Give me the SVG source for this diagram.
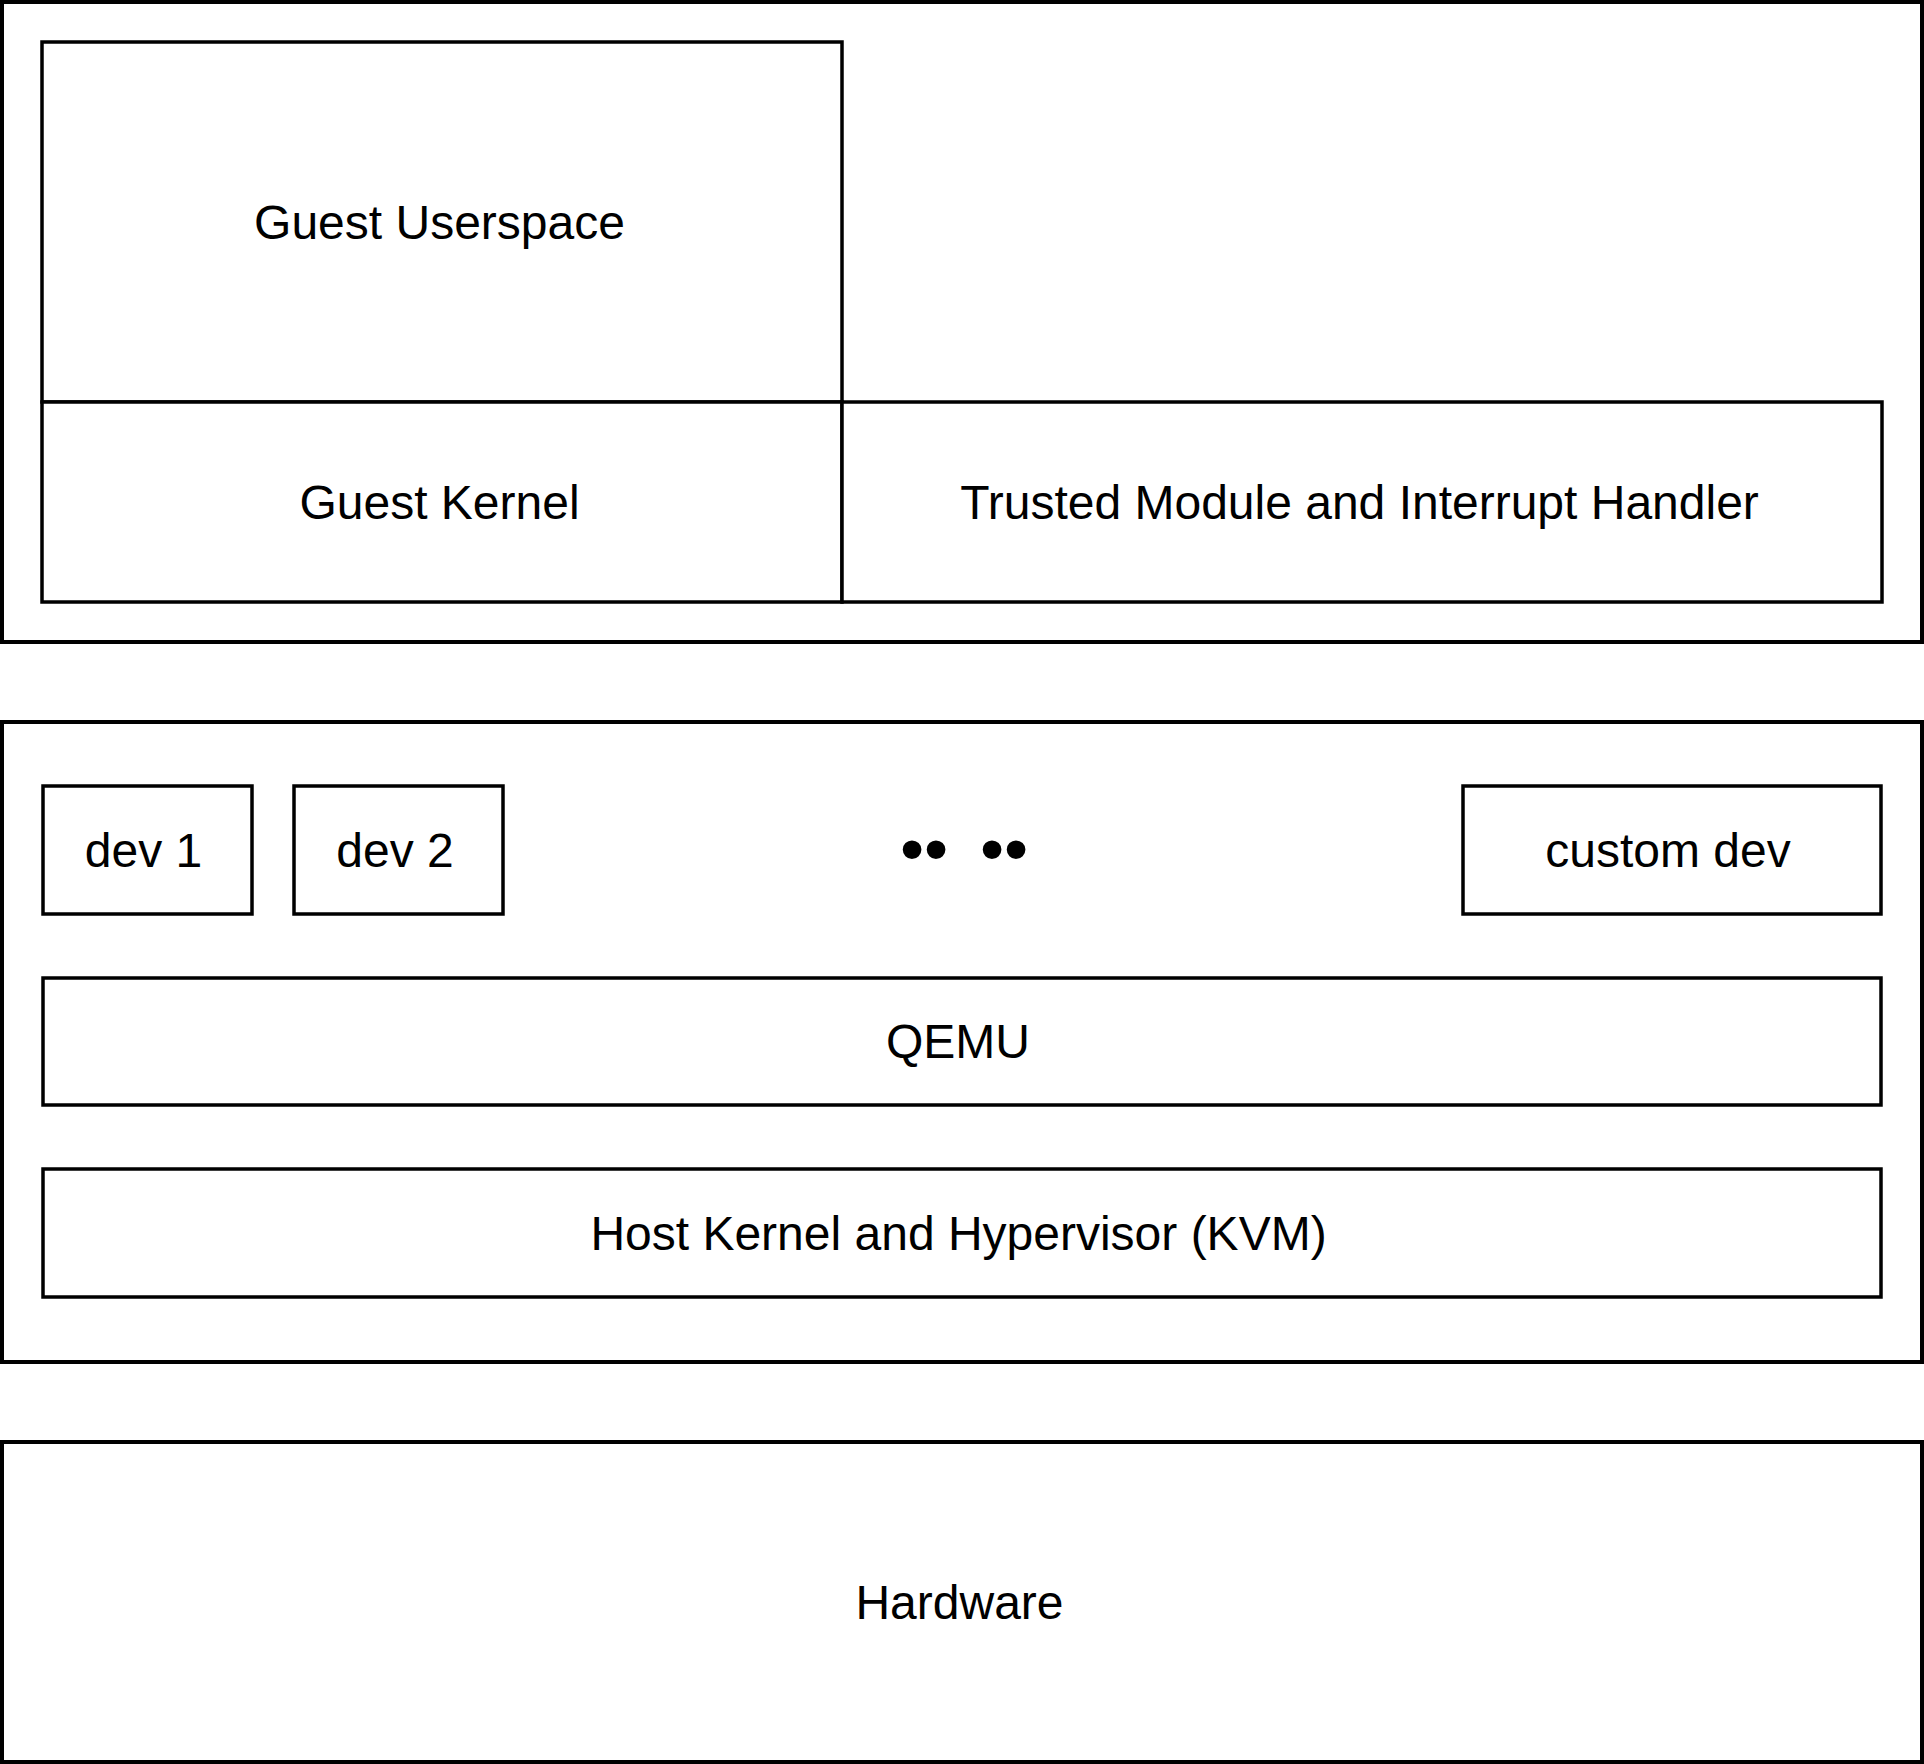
<svg xmlns="http://www.w3.org/2000/svg" width="1924" height="1764" viewBox="0 0 1924 1764">
<style>
.box{fill:#ffffff;stroke:#000000;stroke-width:4}
.in{fill:#ffffff;stroke:#000000;stroke-width:3.5}
.t{font-family:"Liberation Sans",Arial,sans-serif;font-size:48px;fill:#000000;text-anchor:middle}
.dots{font-family:"Liberation Sans",Arial,sans-serif;font-size:69px;fill:#000000;text-anchor:middle}
</style>
<rect x="0" y="0" width="1924" height="1764" fill="#ffffff"/>
<g id="guest-vm">
<rect class="box" x="2" y="2" width="1920" height="640"/>
</g>
<g id="guest-userspace">
<rect class="in" x="42" y="42" width="800" height="360"/>
<text class="t" x="439.5" y="239">Guest Userspace</text>
</g>
<g id="guest-kernel">
<rect class="in" x="42" y="402" width="800" height="200"/>
<text class="t" x="439.5" y="519">Guest Kernel</text>
</g>
<g id="trusted-module">
<rect class="in" x="842" y="402" width="1040" height="200"/>
<text class="t" x="1359.5" y="519">Trusted Module and Interrupt Handler</text>
</g>
<g id="host">
<rect class="box" x="2" y="722" width="1920" height="640"/>
</g>
<g id="dev1">
<rect class="in" x="43" y="786" width="209" height="128"/>
<text class="t" x="143.5" y="867">dev 1</text>
</g>
<g id="dev2">
<rect class="in" x="294" y="786" width="209" height="128"/>
<text class="t" x="395" y="867">dev 2</text>
</g>
<g id="ellipsis">
<text class="dots" x="912 936 964 992 1016" y="872">•• ••</text>
</g>
<g id="custom-dev">
<rect class="in" x="1463" y="786" width="418" height="128"/>
<text class="t" x="1668" y="867">custom dev</text>
</g>
<g id="qemu">
<rect class="in" x="43" y="978" width="1838" height="127"/>
<text class="t" x="958" y="1058">QEMU</text>
</g>
<g id="host-kernel">
<rect class="in" x="43" y="1169" width="1838" height="128"/>
<text class="t" x="958.5" y="1250">Host Kernel and Hypervisor (KVM)</text>
</g>
<g id="hardware">
<rect class="box" x="2" y="1442" width="1920" height="320"/>
<text class="t" x="959.5" y="1619">Hardware</text>
</g>
<g id="connectors"></g>
</svg>
